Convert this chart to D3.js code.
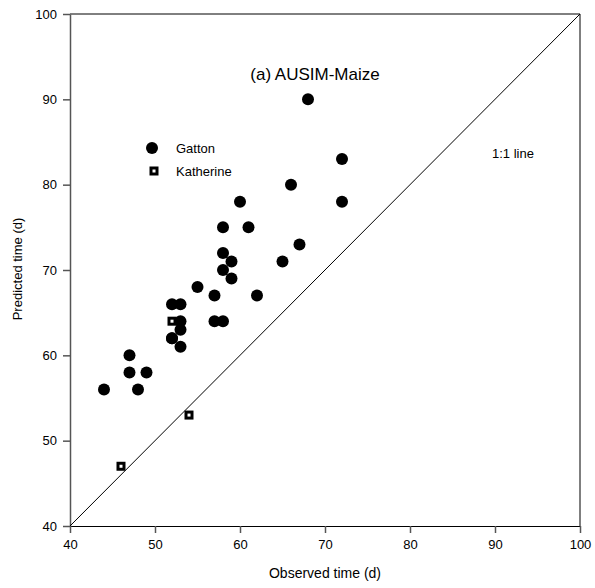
<!DOCTYPE html>
<meta charset="utf-8">
<script src="https://cdn.jsdelivr.net/npm/d3@7"></script>
<style>
body{margin:0;background:#fff;}
text{font-family:"Liberation Sans",Arial,sans-serif;}
</style>
<body>
<div id="chart"></div>
<script>
// Gatton observed / predicted (days)
var gattonObs  = [44,47,47,48,49,52,53,52,53,53,52,53,55,57,57,58,58,58,58,59,59,61,60,62,65,66,67,68,72,72];
var gattonPred = [56,60,58,56,58,66,66,62,64,63,62,61,68,67,64,64,75,72,70,71,69,75,78,67,71,80,73,90,83,78];
// Katherine
var kathObs  = [46,52,54];
var kathPred = [47,64,53];
var ticks = [40,50,60,70,80,90,100];

var W = 595, H = 588;
var svg = d3.select("#chart").append("svg")
    .attr("width", W).attr("height", H);

var x = d3.scaleLinear().domain([40,100]).range([70,580]);
var y = d3.scaleLinear().domain([40,100]).range([526,14]);

// frame top / right
svg.append("line").attr("x1",70).attr("x2",580).attr("y1",14).attr("y2",14)
    .attr("stroke","#000").attr("stroke-width",1);
svg.append("line").attr("x1",580).attr("x2",580).attr("y1",14).attr("y2",526)
    .attr("stroke","#555").attr("stroke-width",1.5);

// axes
var xa = svg.append("g").attr("transform","translate(0,526)")
    .call(d3.axisBottom(x).tickValues(ticks).tickSize(7).tickPadding(7).tickSizeOuter(0));
var ya = svg.append("g").attr("transform","translate(70,0)")
    .call(d3.axisLeft(y).tickValues(ticks).tickSize(7).tickPadding(6).tickSizeOuter(0));
xa.select(".domain").attr("stroke","#000").attr("stroke-width",1);
ya.select(".domain").attr("stroke","#555").attr("stroke-width",1.5);
svg.selectAll(".tick line").attr("stroke","#555").attr("stroke-width",1.5);
svg.selectAll(".tick text").style("font-size","13px").attr("fill","#000");

// 1:1 line
svg.append("line")
    .attr("x1",x(40)).attr("y1",y(40)).attr("x2",x(100)).attr("y2",y(100))
    .attr("stroke","#000").attr("stroke-width",1);

// Katherine points (under circles)
svg.append("g").selectAll("rect")
    .data(d3.range(kathObs.length))
    .enter().append("rect")
    .attr("x",function(i){return x(kathObs[i])-3;})
    .attr("y",function(i){return y(kathPred[i])-3;})
    .attr("width",6).attr("height",6)
    .attr("fill","#fff").attr("stroke","#000").attr("stroke-width",3);

// Gatton points
svg.append("g").selectAll("circle")
    .data(d3.range(gattonObs.length))
    .enter().append("circle")
    .attr("cx",function(i){return x(gattonObs[i]);})
    .attr("cy",function(i){return y(gattonPred[i]);})
    .attr("r",6).attr("fill","#000");

// legend
svg.append("circle").attr("cx",152).attr("cy",148).attr("r",6).attr("fill","#000");
svg.append("text").attr("x",176).attr("y",153).style("font-size","13px").text("Gatton");
svg.append("rect").attr("x",151).attr("y",168).attr("width",6).attr("height",6)
    .attr("fill","#fff").attr("stroke","#000").attr("stroke-width",3);
svg.append("text").attr("x",176).attr("y",176).style("font-size","13px").text("Katherine");

svg.append("text").attr("x",315).attr("y",80).attr("text-anchor","middle")
    .style("font-size","17px").text("(a) AUSIM-Maize");
svg.append("text").attr("x",513).attr("y",158).attr("text-anchor","middle")
    .style("font-size","13px").text("1:1 line");

// axis titles
svg.append("text").attr("x",325).attr("y",578).attr("text-anchor","middle")
    .style("font-size","14px").text("Observed time (d)");
svg.append("text").attr("transform","translate(22,269) rotate(-90)")
    .attr("text-anchor","middle").style("font-size","13px").text("Predicted time (d)");
</script>
</body>
